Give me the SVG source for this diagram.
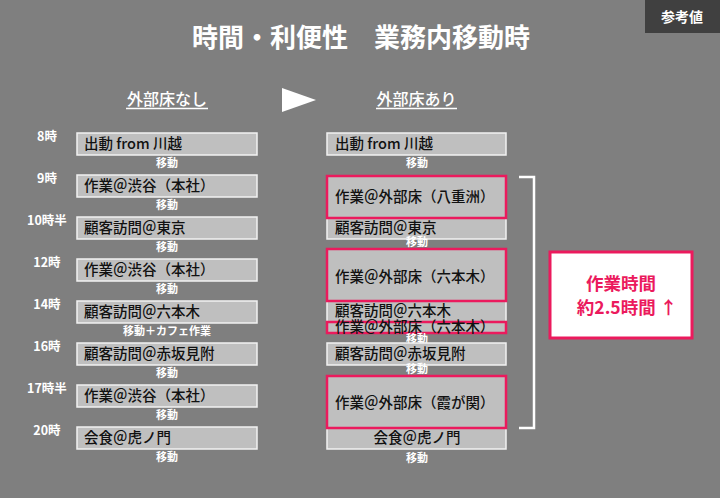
<svg xmlns="http://www.w3.org/2000/svg" width="720" height="498" viewBox="0 0 720 498">
<style>
text{font-family:"Noto Sans CJK JP","Noto Sans",sans-serif}
.box{fill:#bfbfbf;stroke:#f2f2f2;stroke-width:1.5}
.pk{fill:#bfbfbf;stroke:#eb1a5d;stroke-width:2.5}
.bt{font-size:14.5px;font-weight:500;fill:#111}
.mv{font-size:11px;font-weight:bold;fill:#fff;text-anchor:middle}
.tm{font-size:12.5px;font-weight:bold;fill:#fff;text-anchor:middle}
.sub{font-size:16px;font-weight:500;fill:#fff;text-anchor:middle}
</style>
<rect x="0" y="0" width="720" height="498" fill="#7f7f7f"/>
<g id="badge">
<rect x="645" y="0" width="75" height="33" fill="#404040"/>
<text x="682" y="22" font-size="14" font-weight="bold" fill="#fff" text-anchor="middle">参考値</text>
</g>
<text id="title" x="361" y="47" font-size="26" font-weight="bold" fill="#fff" text-anchor="middle">時間・利便性　業務内移動時</text>
<g id="headers">
<text class="sub" x="167" y="105">外部床なし</text>
<line x1="126" y1="108.5" x2="208" y2="108.5" stroke="#fff" stroke-width="1.5"/>
<polygon points="282,88 316,100 282,112" fill="#fff"/>
<text class="sub" x="416.5" y="105">外部床あり</text>
<line x1="376" y1="108.5" x2="457" y2="108.5" stroke="#fff" stroke-width="1.5"/>
</g>
<g id="times">
<text class="tm" x="47" y="141">8時</text>
<text class="tm" x="47" y="183">9時</text>
<text class="tm" x="47" y="225">10時半</text>
<text class="tm" x="47" y="267">12時</text>
<text class="tm" x="47" y="309">14時</text>
<text class="tm" x="47" y="351">16時</text>
<text class="tm" x="47" y="393">17時半</text>
<text class="tm" x="47" y="435">20時</text>
</g>
<g id="left">
<g id="l1"><rect class="box" x="77" y="133" width="180" height="22"/><text class="bt" x="84" y="149">出動 from 川越</text></g>
<g id="l2"><rect class="box" x="77" y="175" width="180" height="22"/><text class="bt" x="84" y="191">作業＠渋谷（本社）</text></g>
<g id="l3"><rect class="box" x="77" y="217" width="180" height="22"/><text class="bt" x="84" y="233">顧客訪問＠東京</text></g>
<g id="l4"><rect class="box" x="77" y="259" width="180" height="22"/><text class="bt" x="84" y="275">作業＠渋谷（本社）</text></g>
<g id="l5"><rect class="box" x="77" y="301" width="180" height="22"/><text class="bt" x="84" y="317">顧客訪問＠六本木</text></g>
<g id="l6"><rect class="box" x="77" y="343" width="180" height="22"/><text class="bt" x="84" y="359">顧客訪問＠赤坂見附</text></g>
<g id="l7"><rect class="box" x="77" y="385" width="180" height="22"/><text class="bt" x="84" y="401">作業＠渋谷（本社）</text></g>
<g id="l8"><rect class="box" x="77" y="427" width="180" height="22"/><text class="bt" x="84" y="443">会食＠虎ノ門</text></g>
<text class="mv" x="167" y="167">移動</text>
<text class="mv" x="167" y="209">移動</text>
<text class="mv" x="167" y="251">移動</text>
<text class="mv" x="167" y="293">移動</text>
<text class="mv" x="167" y="335">移動＋カフェ作業</text>
<text class="mv" x="167" y="377">移動</text>
<text class="mv" x="167" y="419">移動</text>
<text class="mv" x="167" y="461">移動</text>
</g>
<g id="right">
<g id="r1"><rect class="box" x="327" y="133" width="179" height="22"/><text class="bt" x="335" y="149">出動 from 川越</text></g>
<text class="mv" x="417" y="167">移動</text>
<g id="r3"><rect class="box" x="327" y="218" width="179" height="21"/><text class="bt" x="335" y="233">顧客訪問＠東京</text></g>
<g id="r2"><rect class="pk" x="327" y="176" width="179" height="42"/><text class="bt" x="335" y="202">作業＠外部床（八重洲）</text></g>
<text class="mv" x="417" y="246">移動</text>
<g id="r5"><rect class="box" x="327" y="301" width="179" height="21"/><text class="bt" x="335" y="316">顧客訪問＠六本木</text></g>
<g id="r4"><rect class="pk" x="327" y="249" width="179" height="52"/><text class="bt" x="335" y="282">作業＠外部床（六本木）</text></g>
<g id="r6"><rect class="pk" x="327" y="322" width="179" height="11"/><text class="bt" x="335" y="332">作業＠外部床（六本木）</text></g>
<text class="mv" x="417" y="343">移動</text>
<g id="r7"><rect class="box" x="327" y="343" width="179" height="22"/><text class="bt" x="335" y="359">顧客訪問＠赤坂見附</text></g>
<text class="mv" x="417" y="373">移動</text>
<g id="r9"><rect class="box" x="327" y="428" width="179" height="21"/><text class="bt" x="417" y="443" text-anchor="middle">会食＠虎ノ門</text></g>
<g id="r8"><rect class="pk" x="327" y="376" width="179" height="52"/><text class="bt" x="335" y="408">作業＠外部床（霞が関）</text></g>
<text class="mv" x="417" y="462">移動</text>
</g>
<g id="connectors">
<path d="M519,177 H534 V428 H519" fill="none" stroke="#fff" stroke-width="2.5"/>
</g>
<g id="result">
<rect x="550" y="252" width="142" height="86" fill="#fff" stroke="#eb1a5d" stroke-width="3"/>
<text x="621" y="290" font-size="17.5" font-weight="bold" fill="#eb1a5d" text-anchor="middle">作業時間</text>
<text x="627" y="314" font-size="17.5" font-weight="bold" fill="#eb1a5d" text-anchor="middle">約2.5時間 ↑</text>
</g>
</svg>
